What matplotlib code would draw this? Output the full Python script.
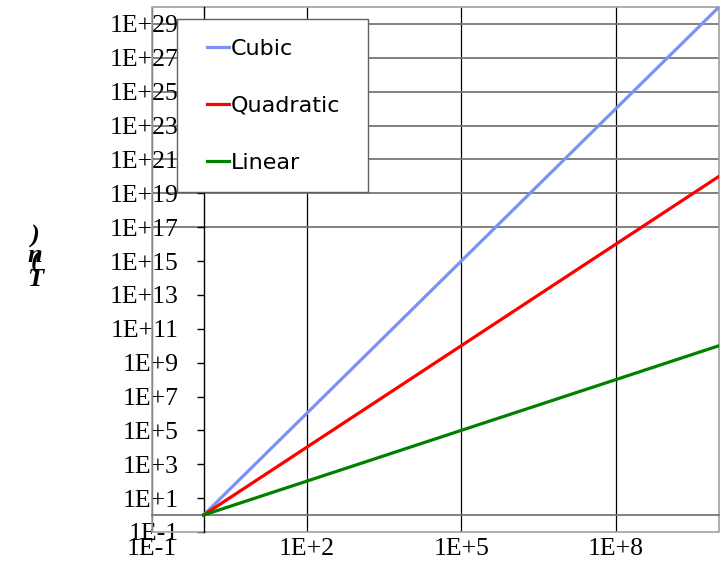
import matplotlib
matplotlib.use("Agg")
import matplotlib.pyplot as plt
from matplotlib.patches import Rectangle

# growth curves T(n) for n = 1 .. 1E+10
n = [1e0, 1e2, 1e4, 1e6, 1e8, 1e10]
linear = [1e0, 1e2, 1e4, 1e6, 1e8, 1e10]
quadratic = [1e0, 1e4, 1e8, 1e12, 1e16, 1e20]
cubic = [1e0, 1e6, 1e12, 1e18, 1e24, 1e30]

xtick_vals = [1e-1, 1e2, 1e5, 1e8]
xtick_labels = ["1E-1", "1E+2", "1E+5", "1E+8"]
ytick_vals = [10.0 ** e for e in range(-1, 30, 2)]
ytick_labels = ["1E-1"] + ["1E+%d" % e for e in range(1, 30, 2)]
hgrid_vals = [1e17, 1e19, 1e21, 1e23, 1e25, 1e27, 1e29]

fig = plt.figure(figsize=(7.2, 5.62), dpi=100)
ax = fig.add_axes([152 / 720, 30 / 562, 567 / 720, 525 / 562])
ax.set_xscale("log")
ax.set_yscale("log")
ax.set_xlim(1e-1, 1e10)
ax.set_ylim(1e-1, 1e30)

# grid
for v in xtick_vals:
    ax.axvline(v, color="black", lw=0.9, zorder=1)
for v in hgrid_vals:
    ax.axhline(v, color="#777777", lw=1.3, zorder=1)

ax.plot(n, cubic, color="#7b92f4", lw=2.3, label="Cubic", zorder=3)
ax.plot(n, quadratic, color="#ff0000", lw=2.3, label="Quadratic", zorder=3)
ax.plot(n, linear, color="#008000", lw=2.3, label="Linear", zorder=3)

ax.set_xticks(xtick_vals, xtick_labels)
ax.set_yticks(ytick_vals, ytick_labels)
ax.minorticks_off()

ax.tick_params(axis="both", labelfontfamily="Liberation Serif", labelsize=18.5)
ax.tick_params(axis="y", direction="out", length=5, width=1, color="black", pad=13)
ax.tick_params(axis="x", length=0, pad=16.5)

# axes cross at (1, 1)
ax.spines["left"].set_position(("data", 1))
ax.spines["left"].set_color("black")
ax.spines["left"].set_linewidth(1)
ax.spines["left"].set_zorder(2)
ax.spines["bottom"].set_position(("data", 1))
ax.spines["bottom"].set_color("#777777")
ax.spines["bottom"].set_linewidth(1.3)
ax.spines["top"].set_visible(False)
ax.spines["right"].set_visible(False)

# outer frame
ax.add_patch(Rectangle((0, 0), 1, 1, transform=ax.transAxes, fill=False,
                       ec="#a0a0a0", lw=1.2, clip_on=False, zorder=2))

# legend box
ax.add_patch(Rectangle((25 / 567, 340 / 525), 191 / 567, 173 / 525,
                       transform=ax.transAxes, fc="white", ec="#606060",
                       lw=1.0, zorder=4))
leg = ax.legend(loc="upper left", bbox_to_anchor=(55 / 567, 493 / 525),
                frameon=False, prop={"family": "DejaVu Sans", "size": 16},
                handlelength=1.0, handletextpad=0.07, labelspacing=1.66,
                borderpad=0, borderaxespad=0)
leg.set_zorder(5)

# stacked axis title
title_chars = [("T", 279), ("(", 262), ("n", 255), (")", 236)]
for ch, ypix in title_chars:
    fig.text(35 / 720, 1 - ypix / 562, ch, family="Liberation Serif",
             style="italic", weight="bold", fontsize=19,
             ha="center", va="center")

fig.savefig("out.png", dpi=100)
plt.close(fig)
